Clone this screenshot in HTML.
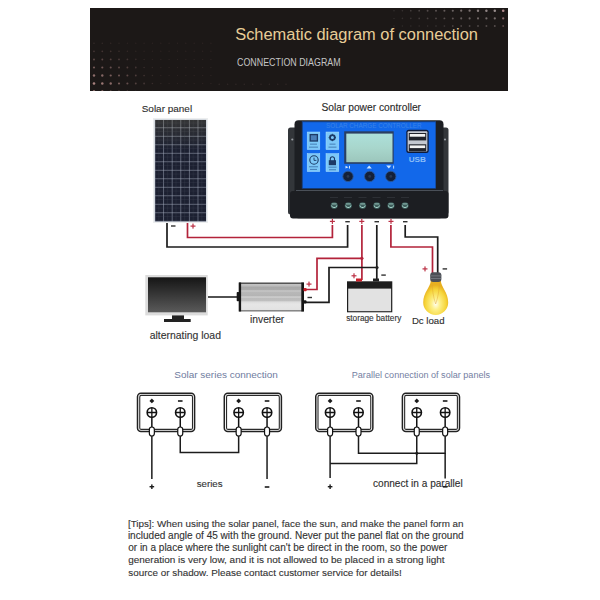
<!DOCTYPE html>
<html><head><meta charset="utf-8">
<style>
html,body{margin:0;padding:0;background:#fff;width:600px;height:600px;overflow:hidden}
body{position:relative;font-family:"Liberation Sans",sans-serif}
.t{position:absolute;white-space:nowrap;line-height:1;transform-origin:0 0;-webkit-text-stroke:0.12px currentColor}
svg{position:absolute;left:0;top:0}
</style></head><body>
<svg width="600" height="600" viewBox="0 0 600 600">
<defs><linearGradient id="pglow" x1="0" y1="0" x2="0" y2="1"><stop offset="0" stop-color="#b0a050" stop-opacity="0.16"/><stop offset="1" stop-color="#b0a050" stop-opacity="0"/></linearGradient><clipPath id="hclip"><rect x="90" y="8" width="418" height="83"/></clipPath>
  <linearGradient id="scr" x1="0" y1="0" x2="0" y2="1">
    <stop offset="0" stop-color="#151515"/><stop offset="1" stop-color="#5a5a5a"/>
  </linearGradient>
  <linearGradient id="inv" x1="0" y1="0" x2="0" y2="1"><stop offset="0" stop-color="#4a4a4a"/><stop offset="0.05" stop-color="#5a5a5a"/><stop offset="0.06" stop-color="#c2c2c2"/><stop offset="0.12" stop-color="#bcbcbc"/><stop offset="0.16" stop-color="#a8a8a8"/><stop offset="0.25" stop-color="#acacac"/><stop offset="0.29" stop-color="#cacaca"/><stop offset="0.33" stop-color="#b8b8b8"/><stop offset="0.46" stop-color="#b4b4b4"/><stop offset="0.5" stop-color="#d4d4d4"/><stop offset="0.54" stop-color="#bcbcbc"/><stop offset="0.62" stop-color="#bebebe"/><stop offset="0.67" stop-color="#dcdcdc"/><stop offset="0.75" stop-color="#e6e6e6"/><stop offset="0.94" stop-color="#e2e2e2"/><stop offset="0.96" stop-color="#8a8a8a"/><stop offset="1" stop-color="#7a7a7a"/></linearGradient>
  <linearGradient id="lcd" x1="0" y1="0" x2="0" y2="1">
    <stop offset="0" stop-color="#ace0da"/><stop offset="0.5" stop-color="#a8d6cc"/><stop offset="1" stop-color="#9cc6bc"/>
  </linearGradient>
  <radialGradient id="bulb" cx="0.5" cy="0.68" r="0.55">
    <stop offset="0" stop-color="#fffef2"/><stop offset="0.3" stop-color="#fdf08a"/><stop offset="0.75" stop-color="#f6d53a"/><stop offset="1" stop-color="#e8b020"/>
  </radialGradient>
  <pattern id="cells" x="154.5" y="118.8" width="8.6" height="8.5" patternUnits="userSpaceOnUse">
    <rect width="8.6" height="8.5" fill="#a2aabb"/>
    <rect x="0.5" y="0.5" width="8.1" height="8" fill="#1c2031"/>
    <rect x="4.5" y="0.5" width="0.3" height="8" fill="#3a4050"/>
    <rect x="0.5" y="4.4" width="8.1" height="0.3" fill="#3a4050"/>
  </pattern>
</defs>

<!-- HEADER -->
<rect x="90" y="8" width="418" height="83" fill="#1c1817"/>
<g id="dots" clip-path="url(#hclip)"><circle cx="94.0" cy="43.3" r="0.79" fill="#e0aca8" opacity="0.13"/><circle cx="102.3" cy="43.3" r="0.78" fill="#e0aca8" opacity="0.12"/><circle cx="110.7" cy="43.3" r="0.76" fill="#e0aca8" opacity="0.11"/><circle cx="119.0" cy="43.3" r="0.74" fill="#e0aca8" opacity="0.09"/><circle cx="127.4" cy="43.3" r="0.70" fill="#e0aca8" opacity="0.08"/><circle cx="135.8" cy="43.3" r="0.70" fill="#e0aca8" opacity="0.08"/><circle cx="144.1" cy="43.3" r="0.70" fill="#e0aca8" opacity="0.08"/><circle cx="152.4" cy="43.3" r="0.70" fill="#e0aca8" opacity="0.08"/><circle cx="160.8" cy="43.3" r="0.70" fill="#e0aca8" opacity="0.08"/><circle cx="169.1" cy="43.3" r="0.70" fill="#e0aca8" opacity="0.08"/><circle cx="177.5" cy="43.3" r="0.70" fill="#e0aca8" opacity="0.08"/><circle cx="185.8" cy="43.3" r="0.70" fill="#e0aca8" opacity="0.08"/><circle cx="194.2" cy="43.3" r="0.70" fill="#e0aca8" opacity="0.08"/><circle cx="202.6" cy="43.3" r="0.70" fill="#e0aca8" opacity="0.08"/><circle cx="210.9" cy="43.3" r="0.70" fill="#e0aca8" opacity="0.08"/><circle cx="94.0" cy="51.3" r="0.89" fill="#e0aca8" opacity="0.21"/><circle cx="102.3" cy="51.3" r="0.88" fill="#e0aca8" opacity="0.20"/><circle cx="110.7" cy="51.3" r="0.86" fill="#e0aca8" opacity="0.18"/><circle cx="119.0" cy="51.3" r="0.83" fill="#e0aca8" opacity="0.15"/><circle cx="127.4" cy="51.3" r="0.79" fill="#e0aca8" opacity="0.12"/><circle cx="135.8" cy="51.3" r="0.74" fill="#e0aca8" opacity="0.09"/><circle cx="144.1" cy="51.3" r="0.70" fill="#e0aca8" opacity="0.08"/><circle cx="152.4" cy="51.3" r="0.70" fill="#e0aca8" opacity="0.08"/><circle cx="160.8" cy="51.3" r="0.70" fill="#e0aca8" opacity="0.08"/><circle cx="169.1" cy="51.3" r="0.70" fill="#e0aca8" opacity="0.08"/><circle cx="177.5" cy="51.3" r="0.70" fill="#e0aca8" opacity="0.08"/><circle cx="185.8" cy="51.3" r="0.70" fill="#e0aca8" opacity="0.08"/><circle cx="194.2" cy="51.3" r="0.70" fill="#e0aca8" opacity="0.08"/><circle cx="202.6" cy="51.3" r="0.70" fill="#e0aca8" opacity="0.08"/><circle cx="210.9" cy="51.3" r="0.70" fill="#e0aca8" opacity="0.08"/><circle cx="94.0" cy="59.4" r="1.00" fill="#e0aca8" opacity="0.32"/><circle cx="102.3" cy="59.4" r="0.98" fill="#e0aca8" opacity="0.30"/><circle cx="110.7" cy="59.4" r="0.95" fill="#e0aca8" opacity="0.27"/><circle cx="119.0" cy="59.4" r="0.91" fill="#e0aca8" opacity="0.23"/><circle cx="127.4" cy="59.4" r="0.87" fill="#e0aca8" opacity="0.19"/><circle cx="135.8" cy="59.4" r="0.81" fill="#e0aca8" opacity="0.14"/><circle cx="144.1" cy="59.4" r="0.75" fill="#e0aca8" opacity="0.10"/><circle cx="152.4" cy="59.4" r="0.70" fill="#e0aca8" opacity="0.08"/><circle cx="160.8" cy="59.4" r="0.70" fill="#e0aca8" opacity="0.08"/><circle cx="169.1" cy="59.4" r="0.70" fill="#e0aca8" opacity="0.08"/><circle cx="177.5" cy="59.4" r="0.70" fill="#e0aca8" opacity="0.08"/><circle cx="185.8" cy="59.4" r="0.70" fill="#e0aca8" opacity="0.08"/><circle cx="194.2" cy="59.4" r="0.70" fill="#e0aca8" opacity="0.08"/><circle cx="202.6" cy="59.4" r="0.70" fill="#e0aca8" opacity="0.08"/><circle cx="210.9" cy="59.4" r="0.70" fill="#e0aca8" opacity="0.08"/><circle cx="94.0" cy="67.5" r="1.10" fill="#e0aca8" opacity="0.44"/><circle cx="102.3" cy="67.5" r="1.08" fill="#e0aca8" opacity="0.42"/><circle cx="110.7" cy="67.5" r="1.04" fill="#e0aca8" opacity="0.38"/><circle cx="119.0" cy="67.5" r="1.00" fill="#e0aca8" opacity="0.32"/><circle cx="127.4" cy="67.5" r="0.94" fill="#e0aca8" opacity="0.26"/><circle cx="135.8" cy="67.5" r="0.88" fill="#e0aca8" opacity="0.20"/><circle cx="144.1" cy="67.5" r="0.81" fill="#e0aca8" opacity="0.14"/><circle cx="152.4" cy="67.5" r="0.74" fill="#e0aca8" opacity="0.10"/><circle cx="160.8" cy="67.5" r="0.70" fill="#e0aca8" opacity="0.08"/><circle cx="169.1" cy="67.5" r="0.70" fill="#e0aca8" opacity="0.08"/><circle cx="177.5" cy="67.5" r="0.70" fill="#e0aca8" opacity="0.08"/><circle cx="185.8" cy="67.5" r="0.70" fill="#e0aca8" opacity="0.08"/><circle cx="194.2" cy="67.5" r="0.70" fill="#e0aca8" opacity="0.08"/><circle cx="202.6" cy="67.5" r="0.70" fill="#e0aca8" opacity="0.08"/><circle cx="210.9" cy="67.5" r="0.70" fill="#e0aca8" opacity="0.08"/><circle cx="94.0" cy="75.5" r="1.20" fill="#e0aca8" opacity="0.58"/><circle cx="102.3" cy="75.5" r="1.17" fill="#e0aca8" opacity="0.54"/><circle cx="110.7" cy="75.5" r="1.12" fill="#e0aca8" opacity="0.48"/><circle cx="119.0" cy="75.5" r="1.06" fill="#e0aca8" opacity="0.40"/><circle cx="127.4" cy="75.5" r="1.00" fill="#e0aca8" opacity="0.32"/><circle cx="135.8" cy="75.5" r="0.93" fill="#e0aca8" opacity="0.25"/><circle cx="144.1" cy="75.5" r="0.86" fill="#e0aca8" opacity="0.18"/><circle cx="152.4" cy="75.5" r="0.78" fill="#e0aca8" opacity="0.12"/><circle cx="160.8" cy="75.5" r="0.71" fill="#e0aca8" opacity="0.08"/><circle cx="169.1" cy="75.5" r="0.70" fill="#e0aca8" opacity="0.08"/><circle cx="177.5" cy="75.5" r="0.70" fill="#e0aca8" opacity="0.08"/><circle cx="185.8" cy="75.5" r="0.70" fill="#e0aca8" opacity="0.08"/><circle cx="194.2" cy="75.5" r="0.70" fill="#e0aca8" opacity="0.08"/><circle cx="202.6" cy="75.5" r="0.70" fill="#e0aca8" opacity="0.08"/><circle cx="210.9" cy="75.5" r="0.70" fill="#e0aca8" opacity="0.08"/><circle cx="94.0" cy="83.5" r="1.30" fill="#e0aca8" opacity="0.72"/><circle cx="102.3" cy="83.5" r="1.25" fill="#e0aca8" opacity="0.65"/><circle cx="110.7" cy="83.5" r="1.18" fill="#e0aca8" opacity="0.56"/><circle cx="119.0" cy="83.5" r="1.11" fill="#e0aca8" opacity="0.46"/><circle cx="127.4" cy="83.5" r="1.04" fill="#e0aca8" opacity="0.37"/><circle cx="135.8" cy="83.5" r="0.96" fill="#e0aca8" opacity="0.28"/><circle cx="144.1" cy="83.5" r="0.89" fill="#e0aca8" opacity="0.21"/><circle cx="152.4" cy="83.5" r="0.81" fill="#e0aca8" opacity="0.14"/><circle cx="160.8" cy="83.5" r="0.73" fill="#e0aca8" opacity="0.09"/><circle cx="169.1" cy="83.5" r="0.70" fill="#e0aca8" opacity="0.08"/><circle cx="177.5" cy="83.5" r="0.70" fill="#e0aca8" opacity="0.08"/><circle cx="185.8" cy="83.5" r="0.70" fill="#e0aca8" opacity="0.08"/><circle cx="194.2" cy="83.5" r="0.70" fill="#e0aca8" opacity="0.08"/><circle cx="202.6" cy="83.5" r="0.70" fill="#e0aca8" opacity="0.08"/><circle cx="210.9" cy="83.5" r="0.70" fill="#e0aca8" opacity="0.08"/><circle cx="94.0" cy="91.6" r="1.36" fill="#e0aca8" opacity="0.82"/><circle cx="102.3" cy="91.6" r="1.28" fill="#e0aca8" opacity="0.70"/><circle cx="110.7" cy="91.6" r="1.21" fill="#e0aca8" opacity="0.59"/><circle cx="119.0" cy="91.6" r="1.13" fill="#e0aca8" opacity="0.48"/><circle cx="127.4" cy="91.6" r="1.05" fill="#e0aca8" opacity="0.38"/><circle cx="135.8" cy="91.6" r="0.97" fill="#e0aca8" opacity="0.29"/><circle cx="144.1" cy="91.6" r="0.90" fill="#e0aca8" opacity="0.21"/><circle cx="152.4" cy="91.6" r="0.82" fill="#e0aca8" opacity="0.15"/><circle cx="160.8" cy="91.6" r="0.74" fill="#e0aca8" opacity="0.09"/><circle cx="169.1" cy="91.6" r="0.70" fill="#e0aca8" opacity="0.08"/><circle cx="177.5" cy="91.6" r="0.70" fill="#e0aca8" opacity="0.08"/><circle cx="185.8" cy="91.6" r="0.70" fill="#e0aca8" opacity="0.08"/><circle cx="194.2" cy="91.6" r="0.70" fill="#e0aca8" opacity="0.08"/><circle cx="202.6" cy="91.6" r="0.70" fill="#e0aca8" opacity="0.08"/><circle cx="210.9" cy="91.6" r="0.70" fill="#e0aca8" opacity="0.08"/><circle cx="219.2" cy="84.3" r="0.8" fill="#a08080" opacity="0.15"/><circle cx="227.6" cy="84.3" r="0.8" fill="#a08080" opacity="0.15"/><circle cx="235.9" cy="84.3" r="0.8" fill="#a08080" opacity="0.15"/><circle cx="244.3" cy="84.3" r="0.8" fill="#a08080" opacity="0.15"/><circle cx="252.7" cy="84.3" r="0.8" fill="#a08080" opacity="0.15"/><circle cx="261.0" cy="84.3" r="0.8" fill="#a08080" opacity="0.15"/><circle cx="269.4" cy="84.3" r="0.8" fill="#a08080" opacity="0.15"/><circle cx="277.7" cy="84.3" r="0.8" fill="#a08080" opacity="0.15"/><circle cx="286.0" cy="84.3" r="0.8" fill="#a08080" opacity="0.15"/><circle cx="503.2" cy="10.7" r="1.29" fill="#e8b4b8" opacity="0.73"/><circle cx="494.8" cy="10.7" r="1.26" fill="#cfc0c0" opacity="0.70"/><circle cx="486.4" cy="10.7" r="1.23" fill="#cfc0c0" opacity="0.65"/><circle cx="478.0" cy="10.7" r="1.19" fill="#cfc0c0" opacity="0.60"/><circle cx="469.6" cy="10.7" r="1.15" fill="#cfc0c0" opacity="0.55"/><circle cx="461.2" cy="10.7" r="1.11" fill="#cfc0c0" opacity="0.50"/><circle cx="452.8" cy="10.7" r="1.07" fill="#cfc0c0" opacity="0.45"/><circle cx="444.4" cy="10.7" r="1.03" fill="#cfc0c0" opacity="0.40"/><circle cx="436.0" cy="10.7" r="0.99" fill="#cfc0c0" opacity="0.35"/><circle cx="427.6" cy="10.7" r="0.94" fill="#cfc0c0" opacity="0.30"/><circle cx="419.2" cy="10.7" r="0.90" fill="#cfc0c0" opacity="0.26"/><circle cx="410.8" cy="10.7" r="0.86" fill="#cfc0c0" opacity="0.21"/><circle cx="402.4" cy="10.7" r="0.82" fill="#cfc0c0" opacity="0.17"/><circle cx="394.0" cy="10.7" r="0.78" fill="#cfc0c0" opacity="0.14"/><circle cx="503.2" cy="18.4" r="1.13" fill="#e8b4b8" opacity="0.52"/><circle cx="494.8" cy="18.4" r="1.12" fill="#cfc0c0" opacity="0.51"/><circle cx="486.4" cy="18.4" r="1.10" fill="#cfc0c0" opacity="0.49"/><circle cx="478.0" cy="18.4" r="1.08" fill="#cfc0c0" opacity="0.46"/><circle cx="469.6" cy="18.4" r="1.06" fill="#cfc0c0" opacity="0.43"/><circle cx="461.2" cy="18.4" r="1.03" fill="#cfc0c0" opacity="0.40"/><circle cx="452.8" cy="18.4" r="1.00" fill="#cfc0c0" opacity="0.36"/><circle cx="444.4" cy="18.4" r="0.96" fill="#cfc0c0" opacity="0.32"/><circle cx="436.0" cy="18.4" r="0.93" fill="#cfc0c0" opacity="0.28"/><circle cx="427.6" cy="18.4" r="0.89" fill="#cfc0c0" opacity="0.24"/><circle cx="419.2" cy="18.4" r="0.85" fill="#cfc0c0" opacity="0.21"/><circle cx="410.8" cy="18.4" r="0.82" fill="#cfc0c0" opacity="0.17"/><circle cx="402.4" cy="18.4" r="0.78" fill="#cfc0c0" opacity="0.14"/><circle cx="394.0" cy="18.4" r="0.75" fill="#cfc0c0" opacity="0.12"/><circle cx="503.2" cy="26.0" r="0.96" fill="#e8b4b8" opacity="0.32"/><circle cx="494.8" cy="26.0" r="0.96" fill="#cfc0c0" opacity="0.32"/><circle cx="486.4" cy="26.0" r="0.95" fill="#cfc0c0" opacity="0.31"/><circle cx="478.0" cy="26.0" r="0.94" fill="#cfc0c0" opacity="0.29"/><circle cx="469.6" cy="26.0" r="0.92" fill="#cfc0c0" opacity="0.27"/><circle cx="461.2" cy="26.0" r="0.90" fill="#cfc0c0" opacity="0.25"/><circle cx="452.8" cy="26.0" r="0.88" fill="#cfc0c0" opacity="0.23"/><circle cx="444.4" cy="26.0" r="0.85" fill="#cfc0c0" opacity="0.20"/><circle cx="436.0" cy="26.0" r="0.82" fill="#cfc0c0" opacity="0.18"/><circle cx="427.6" cy="26.0" r="0.79" fill="#cfc0c0" opacity="0.15"/><circle cx="419.2" cy="26.0" r="0.76" fill="#cfc0c0" opacity="0.13"/><circle cx="410.8" cy="26.0" r="0.75" fill="#cfc0c0" opacity="0.12"/><circle cx="402.4" cy="26.0" r="0.75" fill="#cfc0c0" opacity="0.12"/><circle cx="394.0" cy="26.0" r="0.75" fill="#cfc0c0" opacity="0.12"/></g>

<!-- SOLAR PANEL -->
<rect x="153" y="118" width="55" height="105" fill="#eceeef"/>
<rect x="154.6" y="119.6" width="51.8" height="102" fill="#b4bccb"/>
<rect x="155" y="120" width="51" height="101.4" fill="url(#cells)"/>
<rect x="155" y="120" width="51" height="30" fill="url(#pglow)"/>

<!-- CONTROLLER -->
<rect x="288" y="127.6" width="160.5" height="87" rx="2.5" fill="#33363a"/>
<circle cx="292.3" cy="139.5" r="1.1" fill="#9a9ea4"/>
<circle cx="445" cy="139.5" r="1.1" fill="#9a9ea4"/>
<rect x="294.5" y="120.3" width="149" height="98" rx="4" fill="#1d1f23"/>
<rect x="290" y="191" width="158.5" height="27.4" rx="3" fill="#1c1e22"/>
<rect x="301.8" y="121" width="134.2" height="67.8" fill="#173e7c"/>
<rect x="302.8" y="122.2" width="132.6" height="65.9" fill="#1268ea"/>
<rect x="296" y="190" width="147" height="1" fill="#4a5058"/>
<text x="326" y="128.2" font-family="Liberation Sans" font-size="6.4" fill="#5c9be6" opacity="0.55" textLength="95.5" lengthAdjust="spacingAndGlyphs">SOLAR CHARGE CONTROLLER</text>
<!-- tiles -->
<g fill="#7cc8f8" stroke="#a8dcff" stroke-width="0.5">
  <rect x="307.2" y="132" width="12.6" height="17.6"/>
  <rect x="326" y="132" width="12.8" height="17.6"/>
  <rect x="307.2" y="153.6" width="12.6" height="18"/>
  <rect x="326" y="153.6" width="12.8" height="18"/>
</g>
<g fill="none" stroke="#1c3a66">
  <rect x="310.2" y="134.6" width="7.2" height="6.4" stroke-width="1.3" fill="#4a7fb8"/>
  <circle cx="314" cy="160" r="4.2" stroke-width="1.1"/>
  <path d="M314 157.6 V160.4 H316.4" stroke-width="0.9"/>
  <circle cx="332.4" cy="137.6" r="2.4" stroke-width="1.8"/>
  <path d="M330.3 161 v-2.2 a2.1 2.1 0 0 1 4.2 0 v2.2" stroke-width="1.1"/>
</g>
<g stroke="#1c3a66" stroke-width="0.9" stroke-dasharray="1 0.5">
  <path d="M332.4 133.8 V135 M332.4 140.2 V141.4 M328.6 137.6 H329.8 M335 137.6 H336.2"/>
</g>
<rect x="328.8" y="160.2" width="7.2" height="5" fill="#1c3a66"/>
<g fill="#3a6ea8" opacity="0.75">
  <rect x="310" y="143.6" width="7" height="1.1"/><rect x="309" y="146.6" width="9" height="1.1"/>
  <rect x="329.5" y="143.6" width="6" height="1.1"/><rect x="328.5" y="146.6" width="8" height="1.1"/>
  <rect x="309" y="166.2" width="9" height="1.1"/><rect x="310" y="168.9" width="7" height="1.1"/>
  <rect x="328.5" y="166.6" width="8" height="1.1"/><rect x="329" y="169.2" width="7" height="1.1"/>
</g>
<!-- LCD -->
<rect x="344.2" y="131.3" width="49.5" height="32.5" fill="#2a3f62"/>
<rect x="346.3" y="133.6" width="46.2" height="28.6" fill="url(#lcd)"/>
<!-- USB -->
<rect x="406.3" y="129.7" width="22.4" height="23.3" rx="2.5" fill="#0e1a38"/>
<rect x="407.6" y="131.2" width="19.8" height="20.3" rx="1" fill="#c4c8d0"/>
<rect x="408.8" y="133" width="17.4" height="7.4" fill="#20222a"/>
<rect x="409.8" y="134" width="15.4" height="2.7" fill="#f2f2f2"/>
<rect x="408.8" y="144.3" width="17.4" height="7" fill="#20222a"/>
<rect x="409.8" y="145.4" width="15.4" height="2.7" fill="#f2f2f2"/>
<text x="408.7" y="161.8" font-family="Liberation Sans" font-size="7" font-weight="bold" fill="#a8d2fa" opacity="0.8" textLength="17.3" lengthAdjust="spacingAndGlyphs">USB</text>
<!-- button symbols -->
<g fill="#cfe6ff">
  <path d="M345.5 165.8 l3 1.4 l-3 1.4 z"/><rect x="349" y="165.8" width="1" height="2.8"/>
  <path d="M366.6 168.6 l2.6 -3 l2.6 3 z"/>
  <path d="M386.2 165.6 l2.6 3 l2.6 -3 z"/><rect x="393.2" y="165.6" width="0.9" height="3"/>
</g>
<!-- buttons -->
<g fill="#142038" stroke="#2a5798" stroke-width="0.9">
  <circle cx="348" cy="176.4" r="5.2"/>
  <circle cx="369.7" cy="176.4" r="5.2"/>
  <circle cx="390.8" cy="176.4" r="5.2"/>
</g>
<g fill="#2a3850">
  <circle cx="348" cy="176.4" r="1.4"/><circle cx="369.7" cy="176.4" r="1.4"/><circle cx="390.8" cy="176.4" r="1.4"/>
</g>
<!-- terminals -->
<ellipse cx="334.2" cy="205.6" rx="3.6" ry="3.4" fill="#3a5a58"/><path d="M331.0 205.4 A3.3 3.3 0 0 0 337.4 205.4 L336.4 205.4 A2.2 1.6 0 0 1 332.0 205.4 Z" fill="#b4e2d8"/><rect x="331.8" y="203.2" width="4.8" height="1.4" fill="#8fb8b0" opacity="0.8"/>
<ellipse cx="348.3" cy="205.6" rx="3.6" ry="3.4" fill="#3a5a58"/><path d="M345.1 205.4 A3.3 3.3 0 0 0 351.5 205.4 L350.5 205.4 A2.2 1.6 0 0 1 346.1 205.4 Z" fill="#b4e2d8"/><rect x="345.90000000000003" y="203.2" width="4.8" height="1.4" fill="#8fb8b0" opacity="0.8"/>
<ellipse cx="362.6" cy="205.6" rx="3.6" ry="3.4" fill="#3a5a58"/><path d="M359.40000000000003 205.4 A3.3 3.3 0 0 0 365.8 205.4 L364.8 205.4 A2.2 1.6 0 0 1 360.40000000000003 205.4 Z" fill="#b4e2d8"/><rect x="360.20000000000005" y="203.2" width="4.8" height="1.4" fill="#8fb8b0" opacity="0.8"/>
<ellipse cx="376.8" cy="205.6" rx="3.6" ry="3.4" fill="#3a5a58"/><path d="M373.6 205.4 A3.3 3.3 0 0 0 380.0 205.4 L379.0 205.4 A2.2 1.6 0 0 1 374.6 205.4 Z" fill="#b4e2d8"/><rect x="374.40000000000003" y="203.2" width="4.8" height="1.4" fill="#8fb8b0" opacity="0.8"/>
<ellipse cx="391.0" cy="205.6" rx="3.6" ry="3.4" fill="#3a5a58"/><path d="M387.8 205.4 A3.3 3.3 0 0 0 394.2 205.4 L393.2 205.4 A2.2 1.6 0 0 1 388.8 205.4 Z" fill="#b4e2d8"/><rect x="388.6" y="203.2" width="4.8" height="1.4" fill="#8fb8b0" opacity="0.8"/>
<ellipse cx="405.0" cy="205.6" rx="3.6" ry="3.4" fill="#3a5a58"/><path d="M401.8 205.4 A3.3 3.3 0 0 0 408.2 205.4 L407.2 205.4 A2.2 1.6 0 0 1 402.8 205.4 Z" fill="#b4e2d8"/><rect x="402.6" y="203.2" width="4.8" height="1.4" fill="#8fb8b0" opacity="0.8"/>
<g fill="#5a6068" opacity="0.35">
  <rect x="330" y="197" width="8" height="0.8"/><rect x="344" y="197" width="8" height="0.8"/>
  <rect x="358.5" y="197" width="8" height="0.8"/><rect x="372.5" y="197" width="8" height="0.8"/>
  <rect x="387" y="197" width="8" height="0.8"/><rect x="401" y="197" width="8" height="0.8"/>
</g>

<!-- WIRES -->
<g fill="none" stroke-width="1.7" stroke-linejoin="miter">
  <path d="M187.5 223 V237.5 H332.4 V225" stroke="#b3233a"/>
  <path d="M167 223 V247 H347.6 V225" stroke="#1c1c1c"/>
  <path d="M361.9 225 V280" stroke="#b3233a"/>
  <path d="M361.9 258.3 H317 V289.5 H304" stroke="#b3233a"/>
  <path d="M376.8 225 V280" stroke="#1c1c1c"/>
  <path d="M377 267.5 H329 V302.3 H304" stroke="#1c1c1c"/>
  <path d="M390.9 225 V247 H432.5 V273" stroke="#b3233a"/>
  <path d="M405.2 225 V237 H437.7 V273" stroke="#1c1c1c"/>
  <path d="M208 297 H237" stroke="#333"/>
</g>
<circle cx="361.9" cy="258.3" r="1.6" fill="#b3233a"/>
<circle cx="377" cy="267.5" r="1.6" fill="#222"/>

<!-- MONITOR -->
<rect x="145.3" y="275" width="62.4" height="40.4" fill="#dcdcdc"/>
<rect x="148" y="277.3" width="58" height="35" fill="url(#scr)"/>
<rect x="172" y="315.4" width="12" height="3.6" fill="#222"/>
<rect x="164" y="319" width="26.7" height="3" fill="#222"/>

<!-- INVERTER -->
<rect x="239" y="282.5" width="64.8" height="29" fill="url(#inv)"/>
<rect x="238.7" y="282.5" width="2.4" height="29" fill="#161616"/>
<rect x="301.3" y="282.5" width="2.7" height="29" fill="#161616"/>
<rect x="236.7" y="292" width="2.6" height="9.3" rx="0.8" fill="#161616"/>
<rect x="303.5" y="288" width="3.2" height="3.3" rx="1" fill="#c8202a"/>
<rect x="303.5" y="300.2" width="3" height="3.3" rx="1" fill="#161616"/>

<!-- BATTERY -->
<rect x="347" y="281.3" width="45.3" height="31" fill="#1e1e1e"/>
<rect x="348.2" y="288.6" width="42.9" height="22.6" fill="#e2e2e2"/>
<rect x="356" y="278.5" width="6" height="3" fill="#c8202a"/>
<rect x="373" y="278.5" width="6" height="3" fill="#222"/>

<!-- BULB -->
<path d="M430.8 280.5 L440.8 280.5 C441 287 448.2 292.5 448.2 302.5 A12.5 12.5 0 0 1 423.2 302.5 C423.2 292.5 430.6 287 430.8 280.5 Z" fill="url(#bulb)"/>
<path d="M432 283 C432.5 290 433 296 435.7 304 C438.4 296 439 290 439.5 283" fill="none" stroke="#e0a030" stroke-width="0.7" opacity="0.6"/>
<rect x="430.2" y="272.3" width="11.2" height="9.6" rx="3" fill="#4d5057"/>
<rect x="430.6" y="275.5" width="10.4" height="0.8" fill="#7a7e86"/>
<rect x="430.6" y="278.2" width="10.4" height="0.8" fill="#7a7e86"/>

<!-- SIGNS -->
<g fill="#bb3045">
  <rect x="190.5" y="225.5" width="5" height="1.2"/><rect x="192.4" y="223.6" width="1.2" height="5"/>
  <rect x="329.9" y="220.8" width="5" height="1.2"/><rect x="331.8" y="218.9" width="1.2" height="5"/>
  <rect x="359.3" y="220.8" width="5" height="1.2"/><rect x="361.2" y="218.9" width="1.2" height="5"/>
  <rect x="388.5" y="220.8" width="5" height="1.2"/><rect x="390.4" y="218.9" width="1.2" height="5"/>
  <rect x="306.5" y="283.5" width="5" height="1.2"/><rect x="308.4" y="281.6" width="1.2" height="5"/>
  <rect x="351.5" y="275.2" width="5" height="1.2"/><rect x="353.4" y="273.3" width="1.2" height="5"/>
  <rect x="422.5" y="268.3" width="5" height="1.2"/><rect x="424.4" y="266.4" width="1.2" height="5"/>
</g>
<g fill="#333">
  <rect x="171" y="225.3" width="4.5" height="1.4"/>
  <rect x="345.3" y="221" width="4.5" height="1.4"/>
  <rect x="374.5" y="221" width="4.5" height="1.4"/>
  <rect x="403" y="221" width="4.5" height="1.4"/>
  <rect x="307.5" y="296.8" width="4.5" height="1.4"/>
  <rect x="381.3" y="274.4" width="4.5" height="1.4"/>
  <rect x="442.6" y="268.2" width="4.5" height="1.4"/>
</g>

<!-- SERIES / PARALLEL BOXES -->
<g transform="translate(136.75,392.5)">
  <rect x="0.75" y="0.75" width="57.1" height="38.15" rx="3.5" fill="#fff" stroke="#222" stroke-width="1.5"/>
  <rect x="3" y="2.9" width="52.75" height="34" rx="1.5" fill="none" stroke="#2a2a2a" stroke-width="1.1"/>
  <path d="M15.1 6 L17.5 8.4 L15.1 10.8 L12.7 8.4 Z" fill="#1a1a1a"/>
  <rect x="41.2" y="7.7" width="4.6" height="1.6" fill="#1a1a1a"/>
  <g fill="#fff" stroke="#111" stroke-width="1.6">
    <circle cx="15.1" cy="20" r="4.7"/><circle cx="43.5" cy="20" r="4.7"/>
  </g>
  <g stroke="#111" stroke-width="1.3">
    <path d="M15.1 15.5 V24.5 M10.6 20 H19.6 M43.5 15.5 V24.5 M39 20 H48"/>
    <path d="M15.1 24.5 V35 M43.5 24.5 V35" stroke-width="1.5"/>
  </g>
  <g fill="#fff" stroke="#111" stroke-width="1.2">
    <rect x="12.6" y="34.5" width="5" height="9" rx="2.5"/><rect x="41" y="34.5" width="5" height="9" rx="2.5"/>
  </g>
</g>
<g transform="translate(223.55,392.5)">
  <rect x="0.75" y="0.75" width="57.1" height="38.15" rx="3.5" fill="#fff" stroke="#222" stroke-width="1.5"/>
  <rect x="3" y="2.9" width="52.75" height="34" rx="1.5" fill="none" stroke="#2a2a2a" stroke-width="1.1"/>
  <path d="M15.1 6 L17.5 8.4 L15.1 10.8 L12.7 8.4 Z" fill="#1a1a1a"/>
  <rect x="41.2" y="7.7" width="4.6" height="1.6" fill="#1a1a1a"/>
  <g fill="#fff" stroke="#111" stroke-width="1.6">
    <circle cx="15.1" cy="20" r="4.7"/><circle cx="43.5" cy="20" r="4.7"/>
  </g>
  <g stroke="#111" stroke-width="1.3">
    <path d="M15.1 15.5 V24.5 M10.6 20 H19.6 M43.5 15.5 V24.5 M39 20 H48"/>
    <path d="M15.1 24.5 V35 M43.5 24.5 V35" stroke-width="1.5"/>
  </g>
  <g fill="#fff" stroke="#111" stroke-width="1.2">
    <rect x="12.6" y="34.5" width="5" height="9" rx="2.5"/><rect x="41" y="34.5" width="5" height="9" rx="2.5"/>
  </g>
</g>
<g transform="translate(315.0,392.5)">
  <rect x="0.75" y="0.75" width="57.1" height="38.15" rx="3.5" fill="#fff" stroke="#222" stroke-width="1.5"/>
  <rect x="3" y="2.9" width="52.75" height="34" rx="1.5" fill="none" stroke="#2a2a2a" stroke-width="1.1"/>
  <path d="M15.1 6 L17.5 8.4 L15.1 10.8 L12.7 8.4 Z" fill="#1a1a1a"/>
  <rect x="41.2" y="7.7" width="4.6" height="1.6" fill="#1a1a1a"/>
  <g fill="#fff" stroke="#111" stroke-width="1.6">
    <circle cx="15.1" cy="20" r="4.7"/><circle cx="43.5" cy="20" r="4.7"/>
  </g>
  <g stroke="#111" stroke-width="1.3">
    <path d="M15.1 15.5 V24.5 M10.6 20 H19.6 M43.5 15.5 V24.5 M39 20 H48"/>
    <path d="M15.1 24.5 V35 M43.5 24.5 V35" stroke-width="1.5"/>
  </g>
  <g fill="#fff" stroke="#111" stroke-width="1.2">
    <rect x="12.6" y="34.5" width="5" height="9" rx="2.5"/><rect x="41" y="34.5" width="5" height="9" rx="2.5"/>
  </g>
</g>
<g transform="translate(401.65,392.5)">
  <rect x="0.75" y="0.75" width="57.1" height="38.15" rx="3.5" fill="#fff" stroke="#222" stroke-width="1.5"/>
  <rect x="3" y="2.9" width="52.75" height="34" rx="1.5" fill="none" stroke="#2a2a2a" stroke-width="1.1"/>
  <path d="M15.1 6 L17.5 8.4 L15.1 10.8 L12.7 8.4 Z" fill="#1a1a1a"/>
  <rect x="41.2" y="7.7" width="4.6" height="1.6" fill="#1a1a1a"/>
  <g fill="#fff" stroke="#111" stroke-width="1.6">
    <circle cx="15.1" cy="20" r="4.7"/><circle cx="43.5" cy="20" r="4.7"/>
  </g>
  <g stroke="#111" stroke-width="1.3">
    <path d="M15.1 15.5 V24.5 M10.6 20 H19.6 M43.5 15.5 V24.5 M39 20 H48"/>
    <path d="M15.1 24.5 V35 M43.5 24.5 V35" stroke-width="1.5"/>
  </g>
  <g fill="#fff" stroke="#111" stroke-width="1.2">
    <rect x="12.6" y="34.5" width="5" height="9" rx="2.5"/><rect x="41" y="34.5" width="5" height="9" rx="2.5"/>
  </g>
</g>
<g fill="none" stroke="#1c1c1c" stroke-width="1.5">
  <path d="M151.85 436 V479"/>
  <path d="M180.25 436 V452.5 H238.65 V436"/>
  <path d="M267.05 436 V479"/>
  <path d="M330.1 436 V478"/>
  <path d="M330.1 463.4 H416.75 V436"/>
  <path d="M358.5 436 V453.2 H445.15 V436"/>
  <path d="M445.15 453 V478.5"/>
</g>
<g fill="#1c1c1c">
  <rect x="149.55" y="486" width="4.6" height="1.4"/><rect x="151.15" y="484.4" width="1.4" height="4.6"/>
  <rect x="264.75" y="486.2" width="4.6" height="1.6"/>
  <rect x="327.8" y="486" width="4.6" height="1.4"/><rect x="329.4" y="484.4" width="1.4" height="4.6"/>
  <rect x="442.85" y="486" width="4.6" height="1.6"/>
  <circle cx="416.75" cy="453.2" r="1.5"/>
</g>

</svg>

<div class="t" style="left:235.18px;top:25.69px;font-size:16.43px;color:#e8cd98;-webkit-text-stroke:0px">Schematic diagram of connection</div>
<div class="t" style="left:237.06px;top:56.8px;font-size:10.5px;color:#c4c4c4;transform:scaleX(0.846);-webkit-text-stroke:0px">CONNECTION DIAGRAM</div>
<div class="t" style="left:141.7px;top:103.55px;font-size:9.98px;color:#2e2e2e;">Solar panel</div>
<div class="t" style="left:321.49px;top:103.23px;font-size:10.24px;color:#2a2a2a;">Solar power controller</div>
<div class="t" style="left:149.68px;top:331.37px;font-size:10.43px;color:#333;">alternating load</div>
<div class="t" style="left:249.98px;top:315.07px;font-size:10.31px;color:#333;">inverter</div>
<div class="t" style="left:346.15px;top:315.20px;font-size:8.27px;color:#333;">storage battery</div>
<div class="t" style="left:411.93px;top:315.65px;font-size:9.63px;color:#2e2e2e;">Dc load</div>
<div class="t" style="left:174.3px;top:369.86px;font-size:9.97px;color:#6f7ca0;-webkit-text-stroke:0px">Solar series connection</div>
<div class="t" style="left:351.77px;top:370.55px;font-size:9.09px;color:#7480a2;-webkit-text-stroke:0px">Parallel connection of solar panels</div>
<div class="t" style="left:196.71px;top:478.56px;font-size:9.73px;color:#333;">series</div>
<div class="t" style="left:373.0px;top:478.86px;font-size:10.09px;color:#2e2e2e;">connect in a parallel</div>
<div class="t" style="left:127.91px;top:518.65px;font-size:9.86px;color:#333;">[Tips]: When using the solar panel, face the sun, and make the panel form an</div>
<div class="t" style="left:127.9px;top:530.58px;font-size:10.06px;color:#333;">included angle of 45 with the ground. Never put the panel flat on the ground</div>
<div class="t" style="left:128.2px;top:542.91px;font-size:10.03px;color:#333;">or in a place where the sunlight can't be direct in the room, so the power</div>
<div class="t" style="left:128.2px;top:555.05px;font-size:9.98px;color:#333;">generation is very low, and it is not allowed to be placed in a strong light</div>
<div class="t" style="left:128.3px;top:567.52px;font-size:9.9px;color:#333;">source or shadow. Please contact customer service for details!</div>
</body></html>
